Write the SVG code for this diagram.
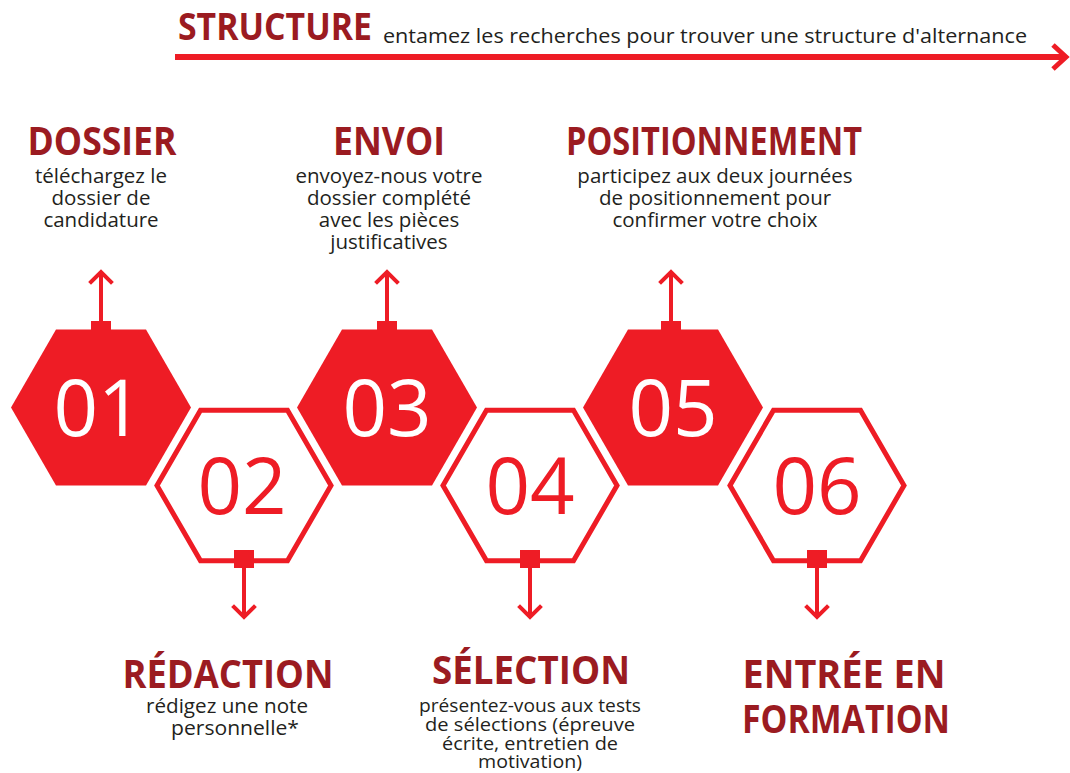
<svg xmlns="http://www.w3.org/2000/svg" width="1070" height="773" viewBox="0 0 1070 773">
<style>
.hx-fill{fill:#ee1c25;}
.hx-line{fill:#ffffff;stroke:#ee1c25;stroke-width:5;}
.num-w{font-family:"Open Sans","Liberation Sans",sans-serif;font-size:78px;fill:#ffffff;text-anchor:middle;}
.num-r{font-family:"Open Sans","Liberation Sans",sans-serif;font-size:78px;fill:#ee1c25;text-anchor:middle;}
.head{font-family:"Open Sans","Liberation Sans",sans-serif;font-weight:700;font-size:40px;fill:#9b1b21;text-anchor:middle;}
.body{font-family:"Open Sans","Liberation Sans",sans-serif;font-size:20.5px;fill:#231f20;text-anchor:middle;}
.body-s{font-family:"Open Sans","Liberation Sans",sans-serif;font-size:19px;fill:#231f20;text-anchor:middle;}
.sq{fill:#ee1c25;}
.conn{stroke:#ee1c25;stroke-width:4;fill:none;}
</style>
<defs>
<marker id="arr" markerUnits="userSpaceOnUse" markerWidth="30" markerHeight="30" viewBox="-15 -15 30 30" refX="0" refY="0" orient="auto">
<path d="M-10,-10 L0,0 L-10,10" fill="none" stroke="#ee1c25" stroke-width="4" stroke-linecap="square"/>
</marker>
</defs>
<rect width="1070" height="773" fill="#ffffff"/>

<g id="structure">
<text x="178" y="40" font-family="'Open Sans','Liberation Sans',sans-serif" font-weight="700" font-size="37" fill="#9b1b21" textLength="194" lengthAdjust="spacingAndGlyphs">STRUCTURE</text>
<text x="383" y="43" font-family="'Open Sans','Liberation Sans',sans-serif" font-size="20" fill="#231f20" textLength="644" lengthAdjust="spacingAndGlyphs">entamez les recherches pour trouver une structure d'alternance</text>
<line x1="175" y1="57" x2="1064" y2="57" stroke="#ee1c25" stroke-width="6"/>
<path d="M1053,45 L1066,57 L1053,69" fill="none" stroke="#ee1c25" stroke-width="5"/>
</g>

<g id="node01">
<polygon class="hx-fill" points="11,407.5 56,329.5 146,329.5 191,407.5 146,485.5 56,485.5"/>
<rect class="sq" x="91" y="321" width="20" height="10"/>
<text class="num-w" x="98" y="436">01</text>
<text class="head" x="102" y="155" textLength="149" lengthAdjust="spacingAndGlyphs">DOSSIER</text>
<text class="body" x="101" y="183">téléchargez le</text>
<text class="body" x="101" y="205">dossier de</text>
<text class="body" x="101" y="227">candidature</text>
</g>

<g id="node02">
<polygon class="hx-line" points="157,485.5 200.5,410.2 287.5,410.2 331,485.5 287.5,560.8 200.5,560.8"/>
<rect class="sq" x="234" y="550" width="20" height="18"/>
<text class="num-r" x="242" y="514">02</text>
<text class="head" x="228" y="688" textLength="211" lengthAdjust="spacingAndGlyphs">RÉDACTION</text>
<text class="body" x="227" y="713" textLength="162" lengthAdjust="spacingAndGlyphs">rédigez une note</text>
<text class="body" x="235" y="735" textLength="128" lengthAdjust="spacingAndGlyphs">personnelle*</text>
</g>

<g id="node03">
<polygon class="hx-fill" points="297,407.5 342,329.5 432,329.5 477,407.5 432,485.5 342,485.5"/>
<rect class="sq" x="377" y="321" width="20" height="10"/>
<text class="num-w" x="387" y="436">03</text>
<text class="head" x="389" y="155" textLength="112" lengthAdjust="spacingAndGlyphs">ENVOI</text>
<text class="body" x="389" y="183">envoyez-nous votre</text>
<text class="body" x="389" y="205">dossier complété</text>
<text class="body" x="389" y="227">avec les pièces</text>
<text class="body" x="389" y="249">justificatives</text>
</g>

<g id="node04">
<polygon class="hx-line" points="443,485.5 486.5,410.2 573.5,410.2 617,485.5 573.5,560.8 486.5,560.8"/>
<rect class="sq" x="520" y="550" width="20" height="18"/>
<text class="num-r" x="530" y="514">04</text>
<text class="head" x="531" y="684" textLength="198" lengthAdjust="spacingAndGlyphs">SÉLECTION</text>
<text class="body-s" x="530" y="712" textLength="222" lengthAdjust="spacingAndGlyphs">présentez-vous aux tests</text>
<text class="body-s" x="530" y="731" textLength="210" lengthAdjust="spacingAndGlyphs">de sélections (épreuve</text>
<text class="body-s" x="530" y="750" textLength="176" lengthAdjust="spacingAndGlyphs">écrite, entretien de</text>
<text class="body-s" x="530" y="768" textLength="104" lengthAdjust="spacingAndGlyphs">motivation)</text>
</g>

<g id="node05">
<polygon class="hx-fill" points="583,407.5 628,329.5 718,329.5 763,407.5 718,485.5 628,485.5"/>
<rect class="sq" x="661" y="321" width="20" height="10"/>
<text class="num-w" x="673" y="436">05</text>
<text class="head" x="714" y="155" textLength="296" lengthAdjust="spacingAndGlyphs">POSITIONNEMENT</text>
<text class="body" x="715" y="183">participez aux deux journées</text>
<text class="body" x="715" y="205">de positionnement pour</text>
<text class="body" x="715" y="227">confirmer votre choix</text>
</g>

<g id="node06">
<polygon class="hx-line" points="730,485.5 773.5,410.2 860.5,410.2 904,485.5 860.5,560.8 773.5,560.8"/>
<rect class="sq" x="807" y="550" width="20" height="18"/>
<text class="num-r" x="817" y="514">06</text>
<text class="head" x="844" y="688" textLength="203" lengthAdjust="spacingAndGlyphs">ENTRÉE EN</text>
<text class="head" x="846" y="733" textLength="208" lengthAdjust="spacingAndGlyphs">FORMATION</text>
</g>

<g id="connectors">
<line class="conn" x1="101" y1="322" x2="101" y2="272" marker-end="url(#arr)"/>
<line class="conn" x1="387" y1="322" x2="387" y2="272" marker-end="url(#arr)"/>
<line class="conn" x1="671" y1="322" x2="671" y2="272" marker-end="url(#arr)"/>
<line class="conn" x1="244" y1="567" x2="244" y2="617" marker-end="url(#arr)"/>
<line class="conn" x1="530" y1="567" x2="530" y2="617" marker-end="url(#arr)"/>
<line class="conn" x1="817" y1="567" x2="817" y2="617" marker-end="url(#arr)"/>
</g>
</svg>
